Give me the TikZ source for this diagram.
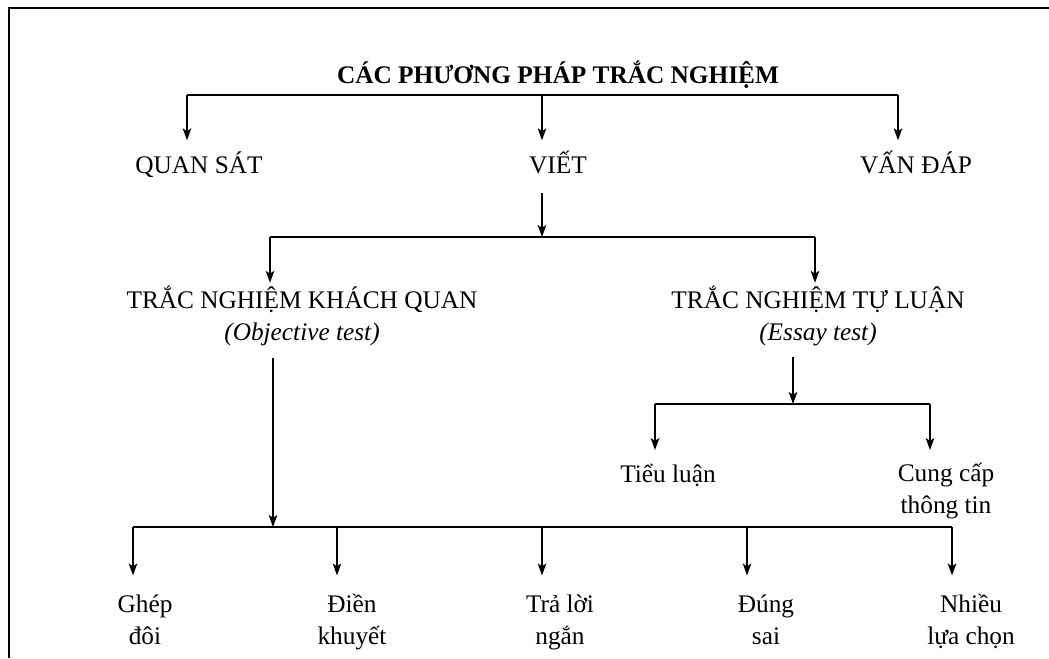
\documentclass[tikz,border=0pt]{standalone}
\usepackage{fontspec}
\setmainfont{Liberation Serif}
\usetikzlibrary{arrows.meta}
\tikzset{
  lbl/.style={inner sep=2pt, align=center, anchor=base, text height=14pt, text depth=4pt},
  lbltwo/.style={inner sep=2pt, align=center, anchor=base},
  bar/.style={line width=1.3pt},
  arr/.style={line width=1.3pt, -{Stealth[length=8.5pt, width=6pt, inset=2pt]}}
}
\begin{document}
\begin{tikzpicture}[x=0.025cm, y=-0.025cm, font=\fontsize{18}{22.5}\selectfont]
\useasboundingbox (0,0) rectangle (1049,658);
\draw[line width=2.1pt] (9,658) -- (9,8) -- (1049,8);
\node[lbl, font=\fontsize{18}{22.5}\selectfont\bfseries] (title) at (558,83) {CÁC PHƯƠNG PHÁP TRẮC NGHIỆM};
\node[lbl] (quan) at (199,173) {QUAN SÁT};
\node[lbl] (viet) at (558,173) {VIẾT};
\node[lbl] (vandap) at (916,173) {VẤN ĐÁP};
\node[lbltwo] (khach) at (302,340) {TRẮC NGHIỆM KHÁCH QUAN\\\textit{(Objective test)}};
\node[lbltwo] (tuluan) at (818,340) {TRẮC NGHIỆM TỰ LUẬN\\\textit{(Essay test)}};
\node[lbl] (tieuluan) at (668,482) {Tiểu luận};
\node[lbltwo] (cungcap) at (946,513) {Cung cấp\\thông tin};
\node[lbltwo] (ghep) at (145,644) {Ghép\\đôi};
\node[lbltwo] (dien) at (352,644) {Điền\\khuyết};
\node[lbltwo] (traloi) at (560,644) {Trả lời\\ngắn};
\node[lbltwo] (dung) at (766,644) {Đúng\\sai};
\node[lbltwo] (nhieu) at (971,644) {Nhiều\\lựa chọn};
\coordinate (b1l) at (187,95);
\coordinate (b1m) at (542,95);
\coordinate (b1r) at (898,95);
\coordinate (b2l) at (270,237);
\coordinate (b2m) at (542,237);
\coordinate (b2r) at (815,237);
\coordinate (b3l) at (655,404);
\coordinate (b3m) at (793,404);
\coordinate (b3r) at (930,404);
\coordinate (b4a) at (133,527);
\coordinate (b4b) at (337,527);
\coordinate (b4c) at (542,527);
\coordinate (b4d) at (747,527);
\coordinate (b4e) at (952,527);
\coordinate (b4k) at (273,527);
\draw[bar] (b1l) -- (b1r);
\draw[arr] (b1l) -- ([yshift=7pt]b1l |- quan.north);
\draw[arr] (b1m) -- ([yshift=7pt]b1m |- viet.north);
\draw[arr] (b1r) -- ([yshift=7pt]b1r |- vandap.north);
\draw[arr] ([yshift=-8pt]b2m |- viet.south) -- (b2m);
\draw[bar] (b2l) -- (b2r);
\draw[arr] (b2l) -- (b2l |- khach.north);
\draw[arr] (b2r) -- (b2r |- tuluan.north);
\draw[arr] ([yshift=-6pt]b3m |- tuluan.south) -- (b3m);
\draw[bar] (b3l) -- (b3r);
\draw[arr] (b3l) -- ([yshift=6.5pt]b3l |- tieuluan.north);
\draw[arr] (b3r) -- ([yshift=6.5pt]b3r |- tieuluan.north);
\draw[arr] ([yshift=-7pt]b4k |- khach.south) -- (b4k);
\draw[bar] (b4a) -- (b4e);
\draw[arr] (b4a) -- ([yshift=11pt]b4a |- dien.north);
\draw[arr] (b4b) -- ([yshift=11pt]b4b |- dien.north);
\draw[arr] (b4c) -- ([yshift=11pt]b4c |- dien.north);
\draw[arr] (b4d) -- ([yshift=11pt]b4d |- dien.north);
\draw[arr] (b4e) -- ([yshift=11pt]b4e |- dien.north);
\end{tikzpicture}
\end{document}
